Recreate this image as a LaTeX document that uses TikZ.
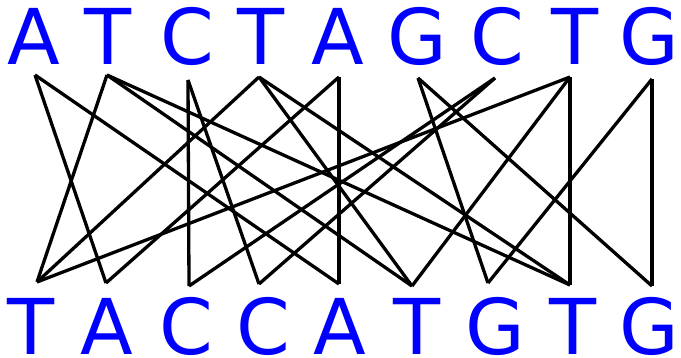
\documentclass[tikz,border=0pt]{standalone}
\usepackage{fontspec}
\setmainfont{DejaVu Sans}
\definecolor{letterblue}{RGB}{0,0,255}
\begin{document}
\begin{tikzpicture}[x=1pt,y=-1pt,
  base/.style={text=letterblue,font=\fontsize{77}{80}\selectfont,anchor=base,inner sep=0pt},
  link/.style={line width=3.3pt,black}]
\useasboundingbox (0,0) rectangle (681,358);
% top letters
\foreach \l/\x [count=\i] in {A/34,T/108,C/187,T/261,A/338,G/417,C/497,T/575,G/649}
  \node[base] (tl\i) at (\x,65) {\l};
% bottom letters
\foreach \l/\x [count=\i] in {T/31,A/107,C/186,C/263,A/340,T/417,G/495,T/573,G/649}
  \node[base] (bl\i) at (\x,355) {\l};
% top endpoints
\foreach \x/\y [count=\i] in {35/75,107/75,188/80,259/77,339/77,418/78,495/78,570/77,652/79}
  \coordinate (t\i) at (\x,\y);
% bottom endpoints
\foreach \x/\y [count=\i] in {37/282,106/283,189/286,259/284,339/284,412/286,488/283,570/285,652/286}
  \coordinate (b\i) at (\x,\y);
% A
\draw[link] (t1) -- (b2);
\draw[link] (t1) -- (b5);
\draw[link] (t5) -- (b2);
\draw[link] (t5) -- (b5);
% C
\draw[link] (t3) -- (b3);
\draw[link] (t3) -- (b4);
\draw[link] (t7) -- (b3);
\draw[link] (t7) -- (b4);
% G
\draw[link] (t6) -- (b7);
\draw[link] (t6) -- (b9);
\draw[link] (t9) -- (b7);
\draw[link] (t9) -- (b9);
% T
\draw[link] (t2) -- (b1);
\draw[link] (t2) -- (b6);
\draw[link] (t2) -- (b8);
\draw[link] (t4) -- (b1);
\draw[link] (t4) -- (b6);
\draw[link] (t4) -- (b8);
\draw[link] (t8) -- (b1);
\draw[link] (t8) -- (b6);
\draw[link] (t8) -- (b8);
\end{tikzpicture}
\end{document}
